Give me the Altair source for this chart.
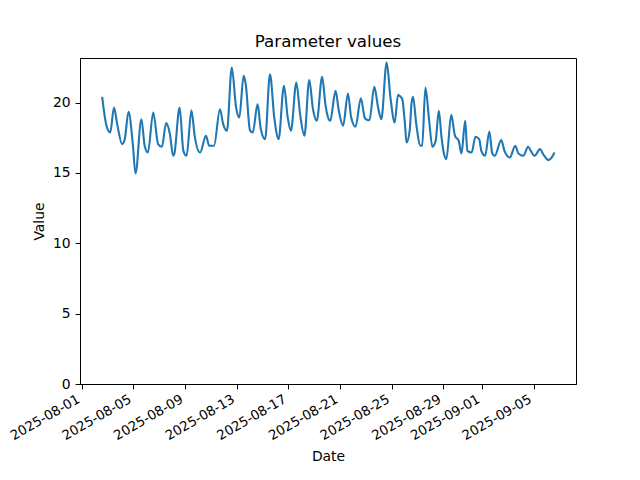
import altair as alt
import pandas as pd

# hours since 2025-08-01 00:00
hours = [38, 46, 53, 60, 66, 75, 80, 87, 95, 100, 111, 117, 123, 133, 142, 149, 157, 164, 170, 172,
         182, 189, 195, 204, 210, 220, 231, 237, 246, 257, 263, 270, 279, 287, 293, 301, 305, 313, 318,
         327, 333, 341, 350, 358, 366, 376, 383, 389, 399, 406, 414, 423, 430, 437, 447, 453, 458, 462,
         472, 478, 486, 495, 501, 509, 519, 526, 529, 535, 544, 551, 557, 567, 574, 582, 588, 592, 596,
         601, 604, 610, 613, 616, 622, 630, 633, 639, 646, 652, 658, 664, 669, 673, 678, 687, 694, 701,
         706, 713, 717, 725, 732, 739, 743, 750, 758, 763, 768, 780, 786, 796, 806, 812, 821, 830, 835,
         842, 852, 858, 868, 874, 879]
values = [20.4, 18.35, 17.87, 19.65, 18.47, 17.05, 17.4, 19.35, 17.05, 14.96, 18.82, 16.93, 16.45, 19.3,
          17.05, 16.86, 18.54, 17.75, 16.22, 16.33,
          19.65, 16.57, 16.22, 19.46, 17.64, 16.45, 17.64, 16.93, 16.93, 19.53, 18.47, 18.0, 22.5, 19.65,
          18.94, 21.9, 21.3, 18.0, 17.87,
          19.89, 18.1, 17.4, 22.02, 18.94, 17.4, 21.2, 18.94, 18.0, 21.43, 19.18, 17.64, 21.6, 19.53,
          18.71, 21.83, 19.89, 18.94, 18.71,
          20.84, 19.42, 18.35, 20.65, 18.94, 18.28, 20.31, 18.94, 18.8, 18.75, 21.12, 19.65, 18.82, 22.85,
          20.36, 18.59, 20.55, 20.45, 20.24,
          18.47, 17.16, 18.1, 19.89, 20.41, 18.47, 16.93, 16.93, 21.07, 18.71, 16.86, 17.28, 19.42, 17.52,
          16.45, 15.98, 19.13, 17.64, 17.28,
          16.38, 18.71, 16.57, 16.45, 17.57, 17.4, 16.57, 16.22, 17.95, 16.45, 16.22, 17.33, 16.57, 16.1,
          16.93, 16.38, 16.22, 16.86, 16.57,
          16.22, 16.69, 16.33, 15.91, 16.1, 16.45]

tick_dates = [(8, 1), (8, 5), (8, 9), (8, 13), (8, 17), (8, 21), (8, 25), (8, 29), (9, 1), (9, 5)]

dates = pd.Timestamp("2025-08-01") + pd.to_timedelta(hours, unit="h")
df = pd.DataFrame({"Date": dates, "Value": values})

font = "DejaVu Sans"

x_axis = alt.Axis(
    values=[alt.DateTime(year=2025, month=m, date=d) for m, d in tick_dates],
    format="%Y-%m-%d",
    labelAngle=-30,
    labelAlign="right",
    labelBaseline="bottom",
    labelPadding=15,
    labelFontSize=13.3,
    labelFont=font,
    labelColor="black",
    tickColor="black",
    tickSize=4.9,
    domainColor="black",
    grid=False,
    title="Date",
    titleFont=font,
    titleFontSize=13.9,
    titleFontWeight="normal",
    titleColor="black",
    titlePadding=8,
    labelOverlap=False,
    labelFlush=False,
)

y_axis = alt.Axis(
    values=[0, 5, 10, 15, 20],
    labelFontSize=13.9,
    labelFont=font,
    labelColor="black",
    labelPadding=4.9,
    tickColor="black",
    tickSize=4.9,
    domainColor="black",
    grid=False,
    title="Value",
    titleFont=font,
    titleFontSize=13.9,
    titleFontWeight="normal",
    titleColor="black",
    titlePadding=6,
)

chart = alt.Chart(df).mark_line(color="#1f77b4", strokeWidth=2.1, interpolate="monotone").encode(
    x=alt.X("Date:T",
            scale=alt.Scale(domain=[alt.DateTime(year=2025, month=7, date=31, hours=20, minutes=48),
                                    alt.DateTime(year=2025, month=9, date=8, hours=7)]),
            axis=x_axis),
    y=alt.Y("Value:Q", scale=alt.Scale(domain=[0, 23.17], nice=False, zero=True), axis=y_axis),
).properties(
    width=496,
    height=326,
    title=alt.TitleParams("Parameter values", font=font, fontSize=16.7, fontWeight="normal",
                          color="black", offset=7),
    autosize=alt.AutoSizeParams(type="none"),
    padding={"left": 72, "top": 50, "right": 56, "bottom": 88},
).configure(
    background="white",
    view=alt.ViewConfig(stroke="black", strokeWidth=1),
)

chart.save("out.html", embed_options={"renderer": "svg", "actions": False})
